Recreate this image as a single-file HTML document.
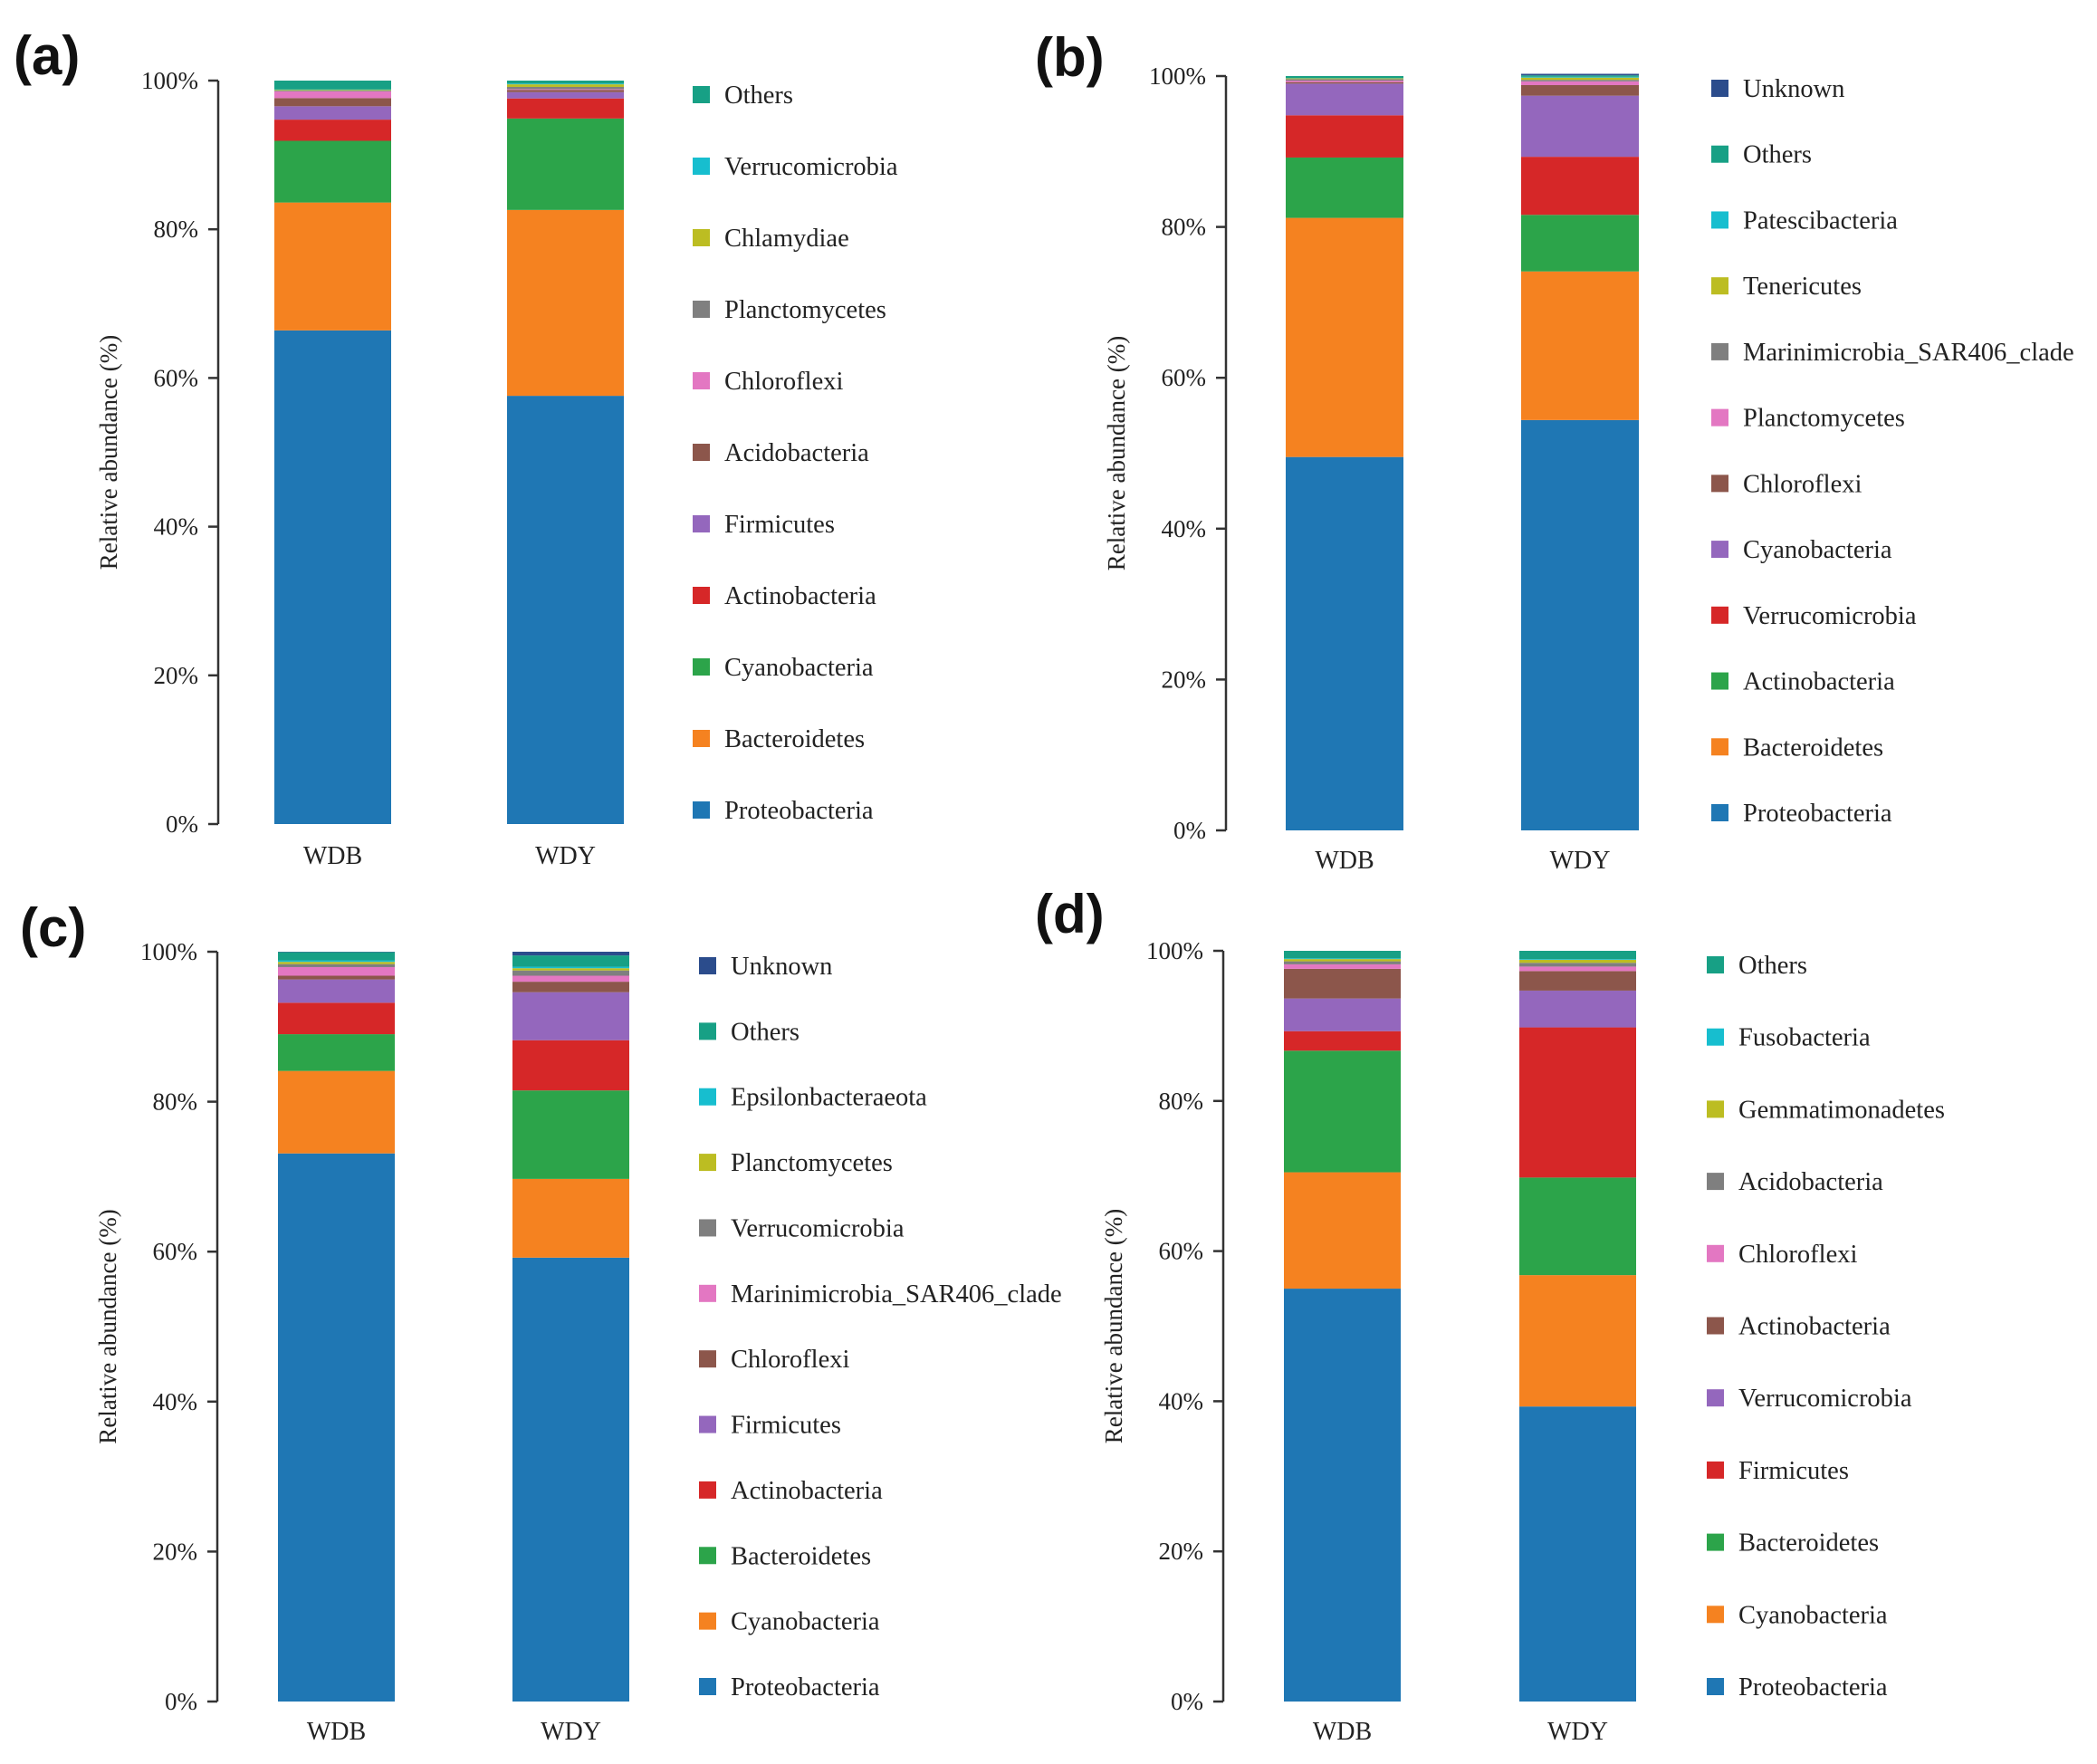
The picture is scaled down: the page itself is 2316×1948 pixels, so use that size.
<!DOCTYPE html>
<html><head><meta charset="utf-8">
<style>
html,body{margin:0;padding:0;background:#fff;}
svg{display:block;}
text{font-family:"Liberation Serif",serif;fill:#222;}
.lt{font-family:"Liberation Sans",sans-serif;font-weight:bold;fill:#111;}
</style></head>
<body>
<svg id="fig" width="2316" height="1948" viewBox="0 0 2316 1948" xmlns="http://www.w3.org/2000/svg"></svg>
<script>
const samples = ["WDB","WDY"];
const yTicks = [0,20,40,60,80,100];
const tickLabels = ["0%","20%","40%","60%","80%","100%"];
const C = {blue:"#1f77b4",orange:"#f58220",green:"#2ca44a",red:"#d62728",purple:"#9467bd",brown:"#8c564b",pink:"#e377c2",gray:"#7f7f7f",olive:"#bcbd22",cyan:"#17becf",teal:"#17a085",navy:"#2b4c8c"};

const taxaA = ["Proteobacteria","Bacteroidetes","Cyanobacteria","Actinobacteria","Firmicutes","Acidobacteria","Chloroflexi","Planctomycetes","Chlamydiae","Verrucomicrobia","Others"];
const colorsA = [C.blue,C.orange,C.green,C.red,C.purple,C.brown,C.pink,C.gray,C.olive,C.cyan,C.teal];
const wdbA = [66.4,17.2,8.3,2.85,1.8,1.1,0.9,0.1,0.1,0.05,1.2];
const wdyA = [57.6,25.0,12.3,2.7,0.85,0.3,0.1,0.3,0.35,0.1,0.4];

const taxaB = ["Proteobacteria","Bacteroidetes","Actinobacteria","Verrucomicrobia","Cyanobacteria","Chloroflexi","Planctomycetes","Marinimicrobia_SAR406_clade","Tenericutes","Patescibacteria","Others","Unknown"];
const colorsB = [C.blue,C.orange,C.green,C.red,C.purple,C.brown,C.pink,C.gray,C.olive,C.cyan,C.teal,C.navy];
const wdbB = [49.5,31.7,8.0,5.6,4.2,0.2,0.2,0.2,0.1,0.05,0.25,0.0];
const wdyB = [54.4,19.7,7.5,7.7,8.1,1.4,0.5,0.2,0.3,0.1,0.2,0.2];

const taxaC = ["Proteobacteria","Cyanobacteria","Bacteroidetes","Actinobacteria","Firmicutes","Chloroflexi","Marinimicrobia_SAR406_clade","Verrucomicrobia","Planctomycetes","Epsilonbacteraeota","Others","Unknown"];
const colorsC = [C.blue,C.orange,C.green,C.red,C.purple,C.brown,C.pink,C.gray,C.olive,C.cyan,C.teal,C.navy];
const wdbC = [73.1,11.0,4.9,4.2,3.1,0.5,1.15,0.4,0.3,0.2,1.1,0.05];
const wdyC = [59.2,10.5,11.8,6.7,6.4,1.4,0.8,0.7,0.3,0.2,1.5,0.5];

const taxaD = ["Proteobacteria","Cyanobacteria","Bacteroidetes","Firmicutes","Verrucomicrobia","Actinobacteria","Chloroflexi","Acidobacteria","Gemmatimonadetes","Fusobacteria","Others"];
const colorsD = [C.blue,C.orange,C.green,C.red,C.purple,C.brown,C.pink,C.gray,C.olive,C.cyan,C.teal];
const wdbD = [55.0,15.5,16.2,2.6,4.35,3.95,0.6,0.4,0.3,0.1,1.0];
const wdyD = [39.3,17.5,13.0,20.0,4.9,2.6,0.6,0.5,0.4,0.1,1.1];

const NS="http://www.w3.org/2000/svg";
const svg=document.getElementById("fig");
function mk(tag,attrs,parent,txt){const e=document.createElementNS(NS,tag);for(const k in attrs)e.setAttribute(k,attrs[k]);if(txt!==undefined)e.textContent=txt;(parent||svg).appendChild(e);return e;}

function panel(p){
  const g=mk("g",{});
  
  
  const y=v=>p.y0-(p.y0-p.y100)*v/100;
  const lt=mk("text",{x:p.lx,y:p.ly,"font-size":60,class:"lt"},g,"("+p.id+")");
  
  
  const ax=mk("line",{x1:p.ax,x2:p.ax,y1:y(100),y2:y(0),stroke:"#333","stroke-width":2.5},g);
  
  
  yTicks.forEach((t,i)=>{
    mk("line",{x1:p.ax-11,x2:p.ax,y1:y(t),y2:y(t),stroke:"#333","stroke-width":2.5},g);
    const tl=mk("text",{x:p.ax-22,y:y(t)+9,"font-size":27,"text-anchor":"end"},g,tickLabels[i]);
    
    
  });
  const cy=(y(0)+y(100))/2;
  const yt=mk("text",{x:p.ax-112,y:cy,"font-size":27,"text-anchor":"middle",transform:`rotate(-90 ${p.ax-112} ${cy})`},g,"Relative abundance (%)");
  
  
  [p.d1,p.d2].forEach((vals,bi)=>{
    let acc=0;
    const bx=p.bars[bi];
    vals.forEach((v,si)=>{
      if(v<=0){return;}
      const r=mk("rect",{x:bx,y:y(acc+v),width:p.bw,height:y(acc)-y(acc+v),fill:p.colors[si]},g);
      
      
      acc+=v;
    });
    const xl=mk("text",{x:bx+p.bw/2,y:p.xly,"font-size":28,"text-anchor":"middle"},g,samples[bi]);
    
    
  });
  const n=p.taxa.length;
  p.taxa.forEach((t,i)=>{
    const ry=p.legBottom-(p.legBottom-p.legTop)*i/(n-1);
    const lg=mk("g",{},g);
    
    
    mk("rect",{x:p.legX,y:ry-9,width:19,height:19,fill:p.colors[i]},lg);
    mk("text",{x:p.legX+35,y:ry+10,"font-size":28.5},lg,t);
  });
}
panel({id:"a",lx:15,ly:82,ax:241,y0:910,y100:89,bars:[303,560],bw:129,d1:wdbA,d2:wdyA,taxa:taxaA,colors:colorsA,xly:954,legX:765,legTop:104,legBottom:894});
panel({id:"b",lx:1143,ly:84,ax:1354,y0:917,y100:84,bars:[1420,1680],bw:130,d1:wdbB,d2:wdyB,taxa:taxaB,colors:colorsB,xly:959,legX:1890,legTop:97,legBottom:897});
panel({id:"c",lx:22,ly:1045,ax:240,y0:1879,y100:1051,bars:[307,566],bw:129,d1:wdbC,d2:wdyC,taxa:taxaC,colors:colorsC,xly:1921,legX:772,legTop:1066,legBottom:1862});
panel({id:"d",lx:1143,ly:1030,ax:1351,y0:1879,y100:1050,bars:[1418,1678],bw:129,d1:wdbD,d2:wdyD,taxa:taxaD,colors:colorsD,xly:1921,legX:1885,legTop:1065,legBottom:1862});
</script>
</body></html>
